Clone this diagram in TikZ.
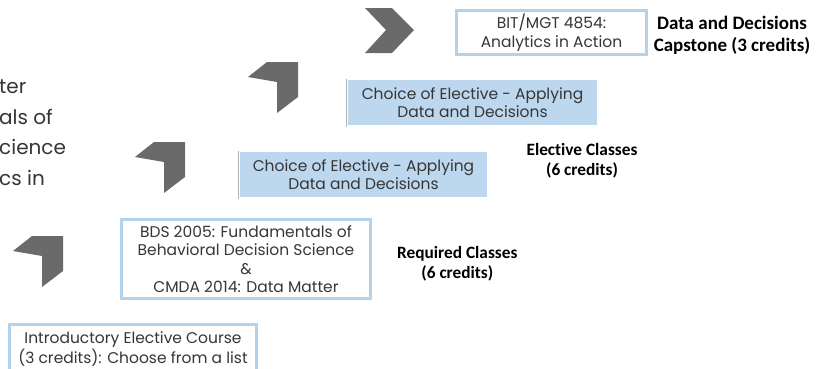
\documentclass[tikz,border=0pt]{standalone}
\usepackage{fontspec}
\setmainfont{Poppins}
\newfontfamily\labfont[Ligatures=NoCommon]{Carlito}
\usetikzlibrary{positioning}
\definecolor{boxline}{HTML}{B3D3EC}
\definecolor{boxfill}{HTML}{BDD7EE}
\definecolor{chevgray}{HTML}{6A6A6A}
\definecolor{txtgray}{HTML}{363636}
\tikzset{%
    boxsty/.style={
        draw=boxline,
        line width=3pt,
        fill=white,
        align=center,
        inner sep=0pt,
        text=txtgray,
        font=\fontsize{15.5}{18.5}\selectfont,
    },
    fboxsty/.style={
        boxsty,
        draw=none,
        fill=boxfill,
    },
    labsty/.style={
        align=center,
        inner sep=0pt,
        font=\labfont\bfseries\fontsize{17.3}{20}\selectfont,
    },
    fragsty/.style={
        anchor=base west,
        inner sep=0pt,
        text=txtgray,
        font=\fontsize{20}{24}\selectfont,
    },
    chevsty/.style={
        fill=chevgray,
    },
}

\begin{document}
\begin{tikzpicture}[x=1pt,y=-1pt]

\path[use as bounding box,fill=white] (0,0) rectangle (822,368);

% text cut off at the left edge
\node (frag1) [fragsty] at (-1,93) {ter};
\node (frag2) [fragsty] at (-1,124) {als of};
\node (frag3) [fragsty] at (-1,154) {cience};
\node (frag4) [fragsty] at (-1,185) {cs in};

% chevrons
\foreach \cx/\cy in {63/236,185/142,298/62}
    \fill[chevsty,shift={(\cx,\cy)}] (0,0) -- (-31,0) -- (-50,15) -- (-21,20) -- (-21,51) -- (0,35) -- cycle;
\fill[chevsty] (365,8) -- (392,8) -- (414,30) -- (392,53) -- (365,53) -- (386,30) -- cycle;

% course boxes
\node (intro) [boxsty,minimum width=247,minimum height=49,font=\fontsize{15.5}{16.5}\selectfont] at (133,349)
      {Introductory Elective Course \\ (3 credits): Choose from a list};
\node (bds) [boxsty,minimum width=249,minimum height=79] at (246,259)
      {BDS 2005: Fundamentals of \\ Behavioral Decision Science \\ \& \\ CMDA 2014: Data Matter};
\node (elec1) [fboxsty,minimum width=247,minimum height=45] at (363.5,174.5)
      {Choice of Elective - Applying \\ Data and Decisions};
\node (elec2) [fboxsty,minimum width=249,minimum height=45] at (472.5,102.5)
      {Choice of Elective - Applying \\ Data and Decisions};
\node (cap) [boxsty,minimum width=190,minimum height=44] at (551.5,32.5)
      {BIT/MGT 4854: \\ Analytics in Action};

\draw[gray!60,line width=1.5pt] (elec1.north west) -- (elec1.south west);
\draw[gray!60,line width=1.5pt] (elec2.north west) -- (elec2.south west);

% stage labels
\node (reqlab) [labsty,right=25pt of bds,yshift=-5pt] {Required Classes \\ (6 credits)};
\node (eleclab) [labsty] at (582,161) {Elective Classes \\ (6 credits)};
\node (caplab) [labsty,font=\labfont\bfseries\fontsize{19}{22}\selectfont] at (732,35) {Data and Decisions \\ Capstone (3 credits)};

\end{tikzpicture}
\end{document}
